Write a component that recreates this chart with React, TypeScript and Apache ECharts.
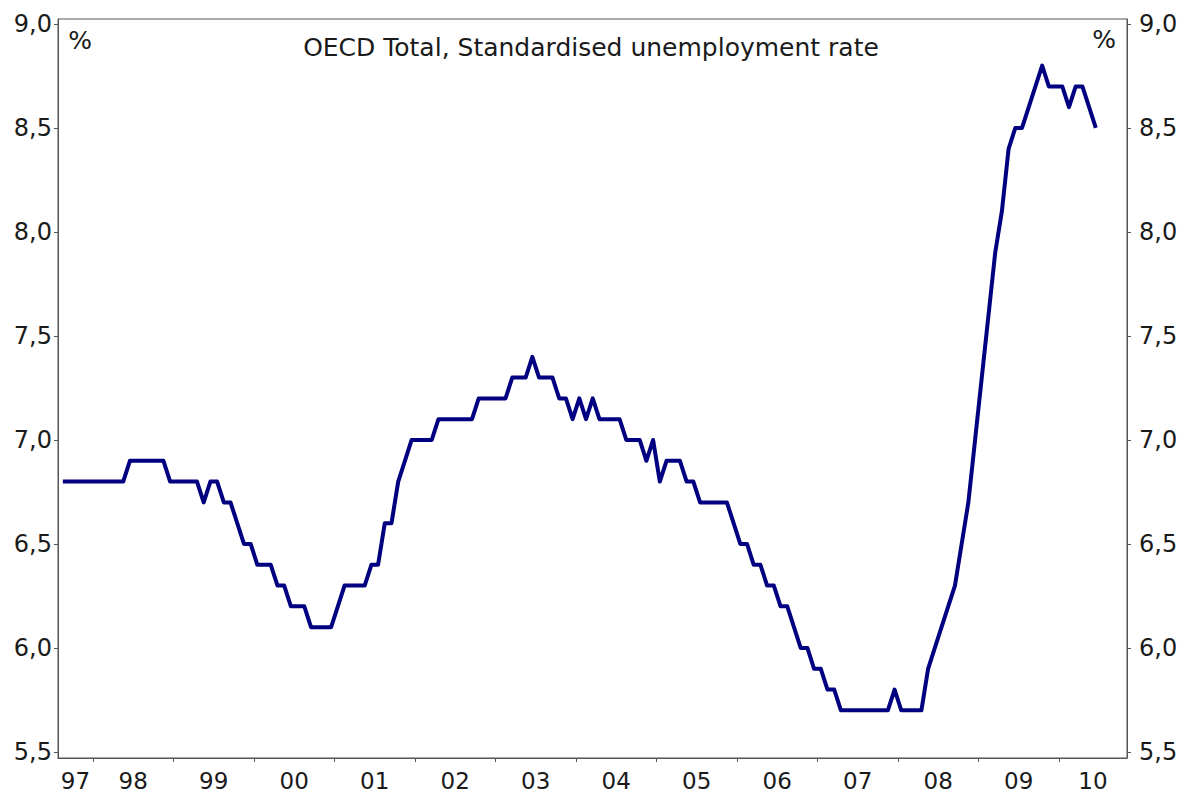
import React, { useEffect, useRef } from "react";
import * as echarts from "echarts";

const TITLE = "OECD Total, Standardised unemployment rate";
const UNIT = "%";
// first observation: August 1997 (monthly data)
const FIRST_YEAR = 1997;
const FIRST_MONTH = 8;

const rate1997 = [6.8, 6.8, 6.8, 6.8, 6.8];
const rate1998 = [6.8, 6.8, 6.8, 6.8, 6.8, 6.9, 6.9, 6.9, 6.9, 6.9, 6.9, 6.8];
const rate1999 = [6.8, 6.8, 6.8, 6.8, 6.7, 6.8, 6.8, 6.7, 6.7, 6.6, 6.5, 6.5];
const rate2000 = [6.4, 6.4, 6.4, 6.3, 6.3, 6.2, 6.2, 6.2, 6.1, 6.1, 6.1, 6.1];
const rate2001 = [6.2, 6.3, 6.3, 6.3, 6.3, 6.4, 6.4, 6.6, 6.6, 6.8, 6.9, 7.0];
const rate2002 = [7.0, 7.0, 7.0, 7.1, 7.1, 7.1, 7.1, 7.1, 7.1, 7.2, 7.2, 7.2];
const rate2003 = [7.2, 7.2, 7.3, 7.3, 7.3, 7.4, 7.3, 7.3, 7.3, 7.2, 7.2, 7.1];
const rate2004 = [7.2, 7.1, 7.2, 7.1, 7.1, 7.1, 7.1, 7.0, 7.0, 7.0, 6.9, 7.0];
const rate2005 = [6.8, 6.9, 6.9, 6.9, 6.8, 6.8, 6.7, 6.7, 6.7, 6.7, 6.7, 6.6];
const rate2006 = [6.5, 6.5, 6.4, 6.4, 6.3, 6.3, 6.2, 6.2, 6.1, 6.0, 6.0, 5.9];
const rate2007 = [5.9, 5.8, 5.8, 5.7, 5.7, 5.7, 5.7, 5.7, 5.7, 5.7, 5.7, 5.8];
const rate2008 = [5.7, 5.7, 5.7, 5.7, 5.9, 6.0, 6.1, 6.2, 6.3, 6.5, 6.7, 7.0];
const rate2009 = [7.3, 7.6, 7.9, 8.1, 8.4, 8.5, 8.5, 8.6, 8.7, 8.8, 8.7, 8.7];
const rate2010 = [8.7, 8.6, 8.7, 8.7, 8.6, 8.5];

const rate = [
  ...rate1997, ...rate1998, ...rate1999, ...rate2000, ...rate2001, ...rate2002, ...rate2003,
  ...rate2004, ...rate2005, ...rate2006, ...rate2007, ...rate2008, ...rate2009, ...rate2010,
];

const yearLabels = ["97", "98", "99", "00", "01", "02", "03", "04", "05", "06", "07", "08", "09", "10"];
const yTicks = [5.5, 6.0, 6.5, 7.0, 7.5, 8.0, 8.5, 9.0];

// x axis measured in months since January 1997
const X_MIN = 6.78;
const X_MAX = 166.15;
const Y_MIN = 5.471;
const Y_MAX = 9.024;

const TEXT = "#1a1a1a";
const AXIS = "#555555";
const FONT = "DejaVu Sans, Verdana, sans-serif";

export default function App() {
  const ref = useRef<HTMLDivElement>(null);

  useEffect(() => {
    if (!ref.current) return;
    const chart = echarts.init(ref.current, null, { renderer: "svg" });

    const startOffset = (FIRST_YEAR - 1997) * 12 + (FIRST_MONTH - 1);
    const seriesData = rate.map((v, i) => [startOffset + i + 0.5, v]);

    const yearBounds = yearLabels.slice(1).map((_, k) => (k + 1) * 12);
    const labelCenters = yearLabels.map((_, k) => {
      const s = Math.max(X_MIN, k * 12);
      const e = Math.min(X_MAX, (k + 1) * 12);
      return (s + e) / 2;
    });
    const xLabel = (value: number) => {
      let best = 0;
      let d = Infinity;
      labelCenters.forEach((c, i) => {
        if (Math.abs(c - value) < d) {
          d = Math.abs(c - value);
          best = i;
        }
      });
      return yearLabels[best];
    };
    const yLabel = (v: number) => v.toFixed(1).replace(".", ",");

    const yAxisBase = {
      type: "value",
      min: Y_MIN,
      max: Y_MAX,
      splitLine: { show: false },
      axisLine: { show: true, lineStyle: { color: AXIS, width: 1 } },
      axisTick: { show: true, customValues: yTicks, length: 4, lineStyle: { color: AXIS } },
      axisLabel: {
        customValues: yTicks,
        formatter: yLabel,
        color: TEXT,
        fontSize: 24,
        fontFamily: FONT,
        margin: 6,
      },
    };

    chart.setOption({
      animation: false,
      backgroundColor: "#ffffff",
      grid: {
        left: 58,
        right: 56,
        top: 19,
        bottom: 38,
        show: true,
        borderColor: AXIS,
        borderWidth: 1,
        containLabel: false,
      },
      xAxis: {
        type: "value",
        min: X_MIN,
        max: X_MAX,
        splitLine: { show: false },
        axisLine: { show: true, lineStyle: { color: AXIS, width: 1 } },
        axisTick: { show: true, customValues: yearBounds, length: 4, lineStyle: { color: AXIS } },
        axisLabel: {
          customValues: labelCenters,
          formatter: xLabel,
          color: TEXT,
          fontSize: 23,
          lineHeight: 20,
          fontFamily: FONT,
          margin: 13,
        },
      },
      yAxis: [
        { ...yAxisBase, position: "left" },
        { ...yAxisBase, position: "right", axisLabel: { ...yAxisBase.axisLabel, margin: 12 } },
      ],
      graphic: [
        {
          type: "text",
          x: 591,
          y: 47,
          style: {
            text: TITLE,
            fill: TEXT,
            font: `25px ${FONT}`,
            textAlign: "center",
            textVerticalAlign: "middle",
          },
        },
        {
          type: "text",
          x: 80,
          y: 40,
          style: { text: UNIT, fill: TEXT, font: `25px ${FONT}`, textAlign: "center", textVerticalAlign: "middle" },
        },
        {
          type: "text",
          x: 1104,
          y: 39,
          style: { text: UNIT, fill: TEXT, font: `25px ${FONT}`, textAlign: "center", textVerticalAlign: "middle" },
        },
      ],
      series: [
        {
          type: "line",
          yAxisIndex: 0,
          data: seriesData,
          showSymbol: false,
          symbol: "none",
          lineStyle: { color: "#000080", width: 4, join: "round", cap: "butt" },
        },
      ],
    });

    return () => chart.dispose();
  }, []);

  return <div ref={ref} style={{ position: "fixed", left: 0, top: 0, width: 1183, height: 796 }} />;
}
